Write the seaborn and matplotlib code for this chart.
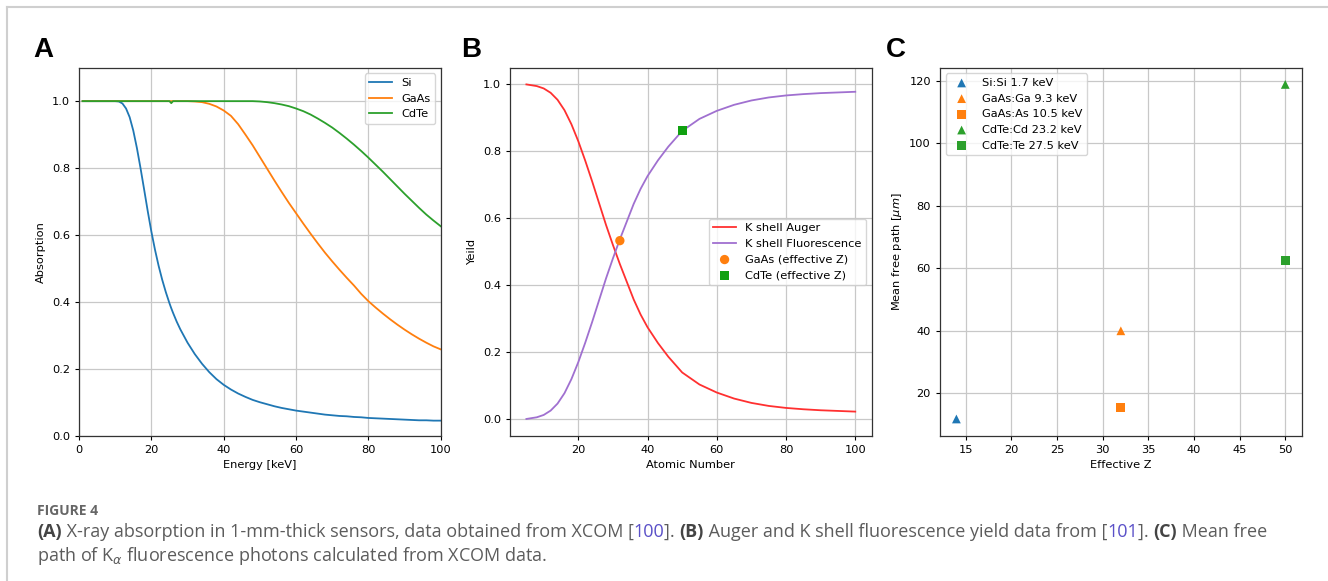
import numpy as np
import pandas as pd
import seaborn as sns
import matplotlib.pyplot as plt
from matplotlib.lines import Line2D

# Panel A: absorption in 1 mm thick sensors
energy = [1, 5, 10, 11, 12, 13, 14, 15, 16, 17, 18, 19, 20, 21, 22, 23, 24, 25, 25.5, 26,
          27, 28, 30, 32, 34, 36, 38, 40, 42, 44, 46, 48, 50, 52, 54, 56, 58, 60, 62, 64,
          66, 68, 70, 72, 74, 76, 78, 80, 82, 84, 86, 88, 90, 92, 94, 96, 98, 100]
abs_si = [1.0, 1.0, 1.0, 0.999, 0.993, 0.978, 0.952, 0.912, 0.86, 0.80, 0.736, 0.671, 0.61,
          0.556, 0.508, 0.466, 0.429, 0.396, 0.381, 0.367, 0.341, 0.318, 0.278, 0.244, 0.215,
          0.19, 0.169, 0.152, 0.138, 0.126, 0.116, 0.107, 0.10, 0.094, 0.088, 0.083, 0.079,
          0.075, 0.072, 0.069, 0.066, 0.063, 0.061, 0.059, 0.058, 0.056, 0.055, 0.053, 0.052,
          0.051, 0.05, 0.049, 0.048, 0.047, 0.046, 0.046, 0.045, 0.045]
abs_gaas = [1.0, 1.0, 1.0, 1.0, 1.0, 1.0, 1.0, 1.0, 1.0, 1.0, 1.0, 1.0, 1.0, 1.0, 1.0, 1.0, 1.0,
            1.0, 1.0, 1.0, 1.0, 1.0, 1.0, 0.999, 0.997, 0.992, 0.984, 0.972, 0.956, 0.931, 0.90,
            0.868, 0.833, 0.798, 0.763, 0.729, 0.696, 0.665, 0.634, 0.604, 0.575, 0.547, 0.521,
            0.496, 0.472, 0.449, 0.424, 0.402, 0.383, 0.365, 0.348, 0.332, 0.317, 0.303, 0.29,
            0.278, 0.267, 0.258]
abs_cdte = [1.0, 1.0, 1.0, 1.0, 1.0, 1.0, 1.0, 1.0, 1.0, 1.0, 1.0, 1.0, 1.0, 1.0, 1.0, 1.0, 1.0,
            1.0, 0.994, 1.0, 1.0, 1.0, 1.0, 1.0, 1.0, 1.0, 1.0, 1.0, 1.0, 1.0, 1.0, 1.0, 0.999,
            0.997, 0.994, 0.99, 0.985, 0.978, 0.97, 0.96, 0.948, 0.935, 0.921, 0.905, 0.888,
            0.87, 0.851, 0.831, 0.81, 0.789, 0.767, 0.745, 0.723, 0.702, 0.681, 0.661, 0.643, 0.626]

# Panel B: K shell yields
z_num = [5, 8, 10, 12, 14, 16, 18, 20, 22, 24, 26, 28, 30, 32, 34, 36, 38, 40, 43, 46, 50,
         55, 60, 65, 70, 75, 80, 85, 90, 95, 100]
auger = [1.0, 0.995, 0.988, 0.975, 0.954, 0.923, 0.881, 0.83, 0.772, 0.71, 0.645, 0.58, 0.52,
         0.463, 0.41, 0.357, 0.312, 0.274, 0.227, 0.186, 0.139, 0.103, 0.079, 0.061, 0.048,
         0.039, 0.033, 0.029, 0.026, 0.024, 0.022]
fluor = [0.0, 0.005, 0.012, 0.025, 0.046, 0.077, 0.119, 0.17, 0.228, 0.29, 0.355, 0.42, 0.48,
         0.537, 0.59, 0.643, 0.688, 0.726, 0.773, 0.814, 0.861, 0.897, 0.921, 0.939, 0.952,
         0.961, 0.967, 0.971, 0.974, 0.976, 0.978]
eff_z_pts = [32, 50]
eff_yield = [0.533, 0.863]
eff_names = ["GaAs (effective Z)", "CdTe (effective Z)"]

# Panel C: mean free path of K-alpha photons
mfp_labels = ["Si:Si 1.7 keV", "GaAs:Ga 9.3 keV", "GaAs:As 10.5 keV",
              "CdTe:Cd 23.2 keV", "CdTe:Te 27.5 keV"]
mfp_z = [14, 32, 32, 50, 50]
mfp_um = [11.8, 40.0, 15.5, 118.8, 62.4]

blue, orange, green = "#1f77b4", "#ff7f0e", "#2ca02c"
fs = 8.2
plt.rcParams.update({"font.size": fs, "axes.linewidth": 0.9, "xtick.major.width": 0.8,
                     "ytick.major.width": 0.8, "xtick.major.size": 3, "ytick.major.size": 3,
                     "legend.fontsize": fs})

fig = plt.figure(figsize=(13.28, 5.81), dpi=100)
cap = fig.add_axes([0, 0, 1, 1])
cap.set_axis_off()
cap.set_xlim(0, 1)
cap.set_ylim(0, 1)

w, h, bot = 0.2724, 0.6334, 0.2501
axA = fig.add_axes([0.0595, bot, w, h])
axB = fig.add_axes([0.3840, bot, w, h])
axC = fig.add_axes([0.7078, bot, w, h])

# A
df_abs = pd.DataFrame({"energy": energy, "Si": abs_si, "GaAs": abs_gaas, "CdTe": abs_cdte})
for name, col in [("Si", blue), ("GaAs", orange), ("CdTe", green)]:
    sns.lineplot(data=df_abs, x="energy", y=name, ax=axA, color=col, lw=1.3, label=name)
axA.set_xlim(0, 100)
axA.set_ylim(0, 1.1)
axA.set_xlabel("Energy [keV]")
axA.set_ylabel("Absorption")
axA.legend(loc="upper right")

# B
sns.lineplot(x=z_num, y=auger, ax=axB, color="#ff3030", lw=1.3, label="K shell Auger")
sns.lineplot(x=z_num, y=fluor, ax=axB, color="#a070d0", lw=1.3, label="K shell Fluorescence")
sns.scatterplot(x=eff_z_pts[:1], y=eff_yield[:1], ax=axB, color=orange, marker="o", s=45,
                edgecolor="none", label=eff_names[0], zorder=3)
sns.scatterplot(x=eff_z_pts[1:], y=eff_yield[1:], ax=axB, color="#10a010", marker="s", s=42,
                edgecolor="none", label=eff_names[1], zorder=3)
axB.set_xlabel("Atomic Number")
axB.set_ylabel("Yeild")
axB.legend(loc="center right")

# C
mfp_cols = [blue, orange, orange, green, green]
mfp_marks = ["^", "^", "s", "^", "s"]
for lab, zz, mm, cc, mk in zip(mfp_labels, mfp_z, mfp_um, mfp_cols, mfp_marks):
    sns.scatterplot(x=[zz], y=[mm], ax=axC, color=cc, marker=mk, s=40, edgecolor="none",
                    label=lab)
axC.set_xlabel("Effective Z")
axC.set_ylabel("Mean free path [$\\mu m$]")
axC.legend(loc="upper left")

for ax in (axA, axB, axC):
    ax.grid(True, color="#c8c8c8", lw=0.9)
    ax.set_axisbelow(True)
    for s in ax.spines.values():
        s.set_color("#333333")

# panel letters
for x, let in [(0.0248, "A"), (0.347, "B"), (0.667, "C")]:
    fig.text(x, 0.914, let, fontsize=20, weight="bold", family="Liberation Sans",
             va="center", ha="left")

# page frame
fig.add_artist(Line2D([0.0053, 0.0053], [0, 0.988], color="#cfcfcf", lw=1.5))
fig.add_artist(Line2D([0.0053, 1], [0.988, 0.988], color="#cfcfcf", lw=1.5))

# caption
gray, dark, link = "#5c5c5c", "#444444", "#5a50c8"
cfont = "Open Sans"
csize = 13
fig.text(37 / 1328, 1 - 515 / 581, "FIGURE 4", family=cfont, fontsize=10, weight="bold",
         color="#666666", va="baseline")

styles = {"n": dict(color=gray), "b": dict(color=dark, weight="bold"), "c": dict(color=link)}
parts = [("(A)", "b"), (" X-ray absorption in 1-mm-thick sensors, data obtained from XCOM [", "n"),
         ("100", "c"), ("]. ", "n"), ("(B)", "b"),
         (" Auger and K shell fluorescence yield data from [", "n"), ("101", "c"),
         ("]. ", "n"), ("(C)", "b"), (" Mean free", "n")]
t = cap.text(37 / 1328, 1 - 537 / 581, parts[0][0], family=cfont, fontsize=csize,
             va="baseline", **styles[parts[0][1]])
for txt, st in parts[1:]:
    t = cap.annotate(txt, xy=(1, 0), xycoords=t, va="bottom", ha="left", family=cfont,
                     fontsize=csize, **styles[st])
cap.text(37 / 1328, 1 - 561 / 581, "path of K$_{\\alpha}$ fluorescence photons calculated from XCOM data.",
         family=cfont, fontsize=csize, color=gray, va="baseline")

fig.savefig("out.png", dpi=100)
